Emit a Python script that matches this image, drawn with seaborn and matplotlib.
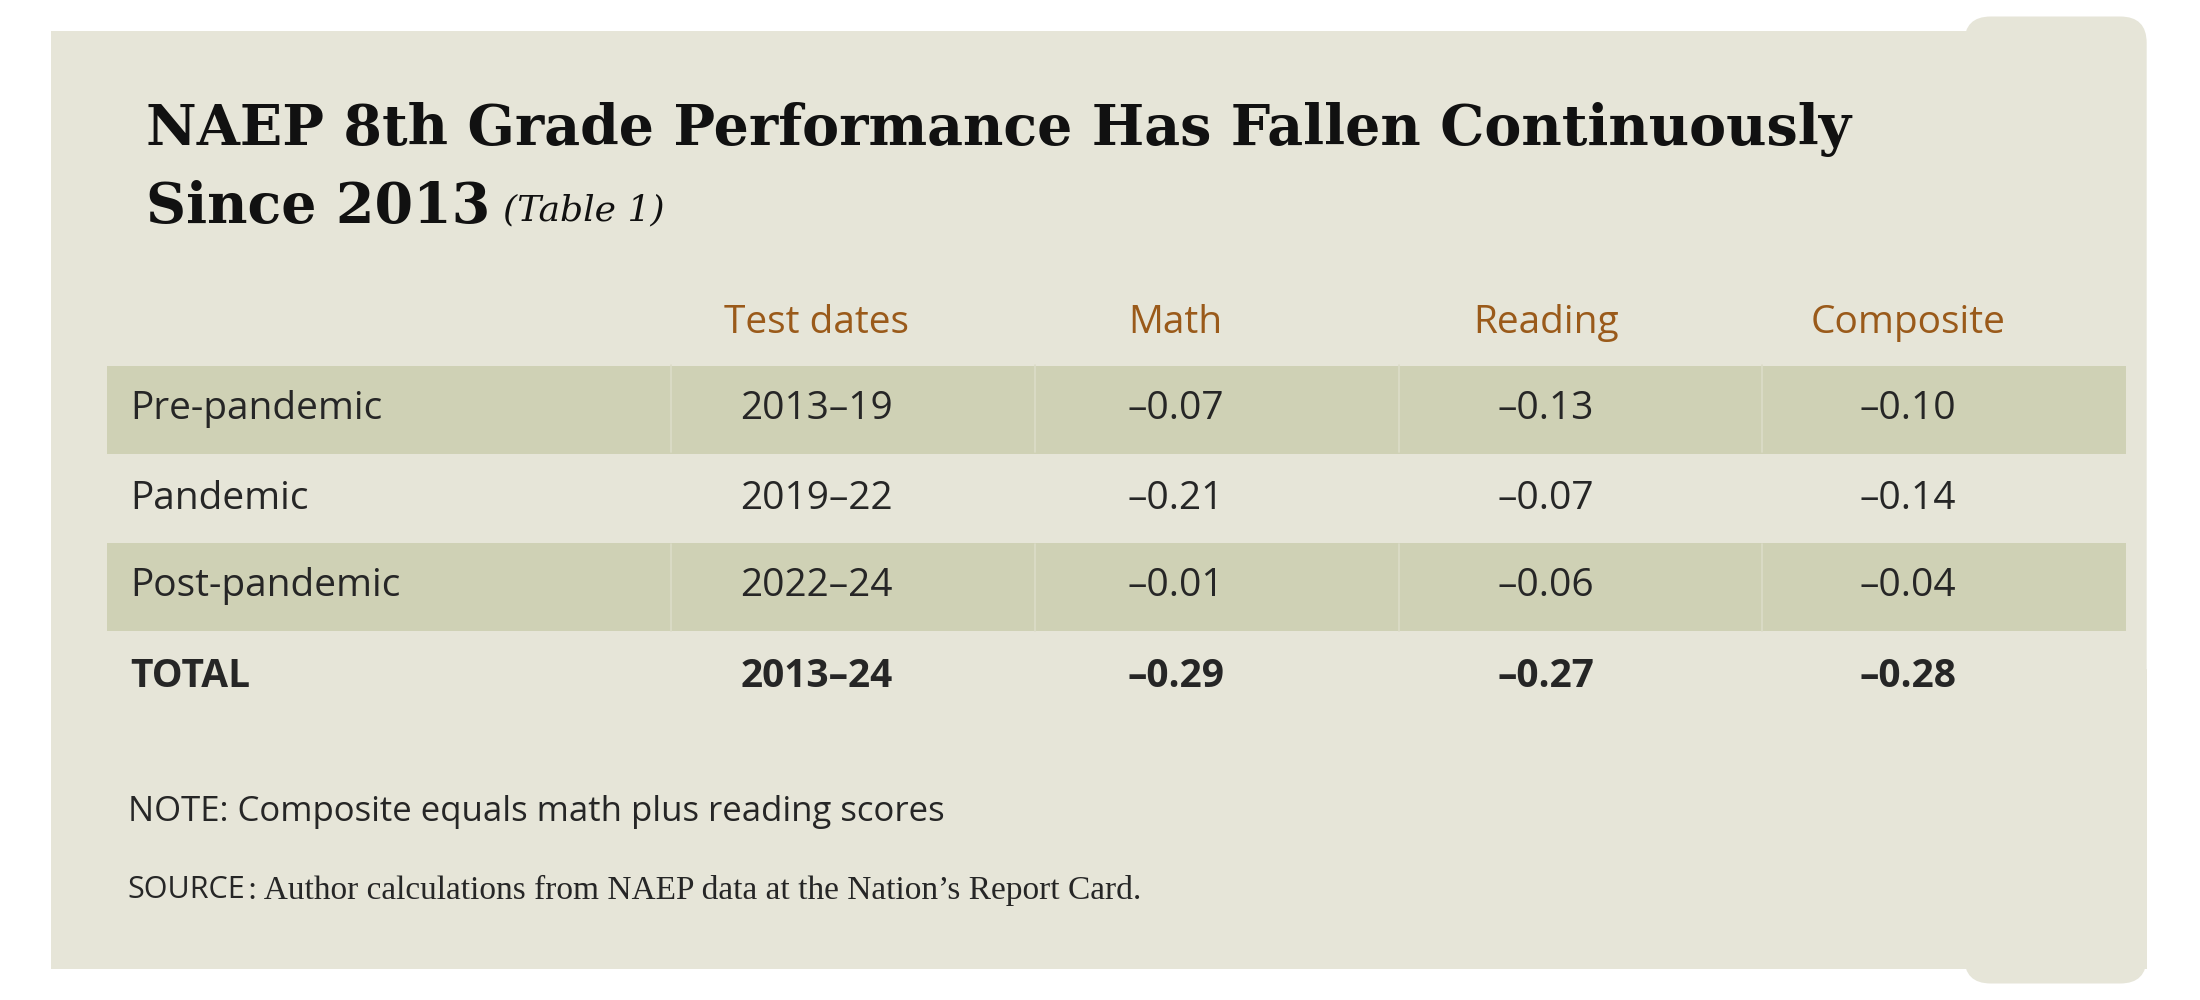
import matplotlib.pyplot as plt
import numpy as np
import seaborn as sns
from matplotlib.colors import ListedColormap
from matplotlib.patches import FancyBboxPatch, Rectangle

sns.set_style("white")
plt.rcParams["font.family"] = ["Open Sans", "DejaVu Sans"]

title_line1 = "NAEP 8th Grade Performance Has Fallen Continuously"
title_line2 = "Since 2013"
title_note = "(Table 1)"
headers = ["Test dates", "Math", "Reading", "Composite"]
row_labels = ["Pre-pandemic", "Pandemic", "Post-pandemic", "TOTAL"]
test_dates = ["2013\u201319", "2019\u201322", "2022\u201324", "2013\u201324"]
math = [-0.07, -0.21, -0.01, -0.29]
reading = [-0.13, -0.07, -0.06, -0.27]
composite = [-0.10, -0.14, -0.04, -0.28]
shaded = [0, 1, 0, 1, 0]  # header row + 4 data rows
note = "NOTE: Composite equals math plus reading scores"
source = "Author calculations from NAEP data at the Nation\u2019s Report Card."

PANEL = "#e6e5d8"
STRIPE = "#cfd1b5"
BROWN = "#9a5a1a"
W, H = 1568, 712  # reference pixel grid used for layout


def fx(x):
    return x / W


def fy(y):
    return 1 - y / H


fig = plt.figure(figsize=(22, 10), dpi=100)
fig.patch.set_facecolor("white")
bg = fig.add_axes([0, 0, 1, 1], zorder=0)
bg.set_xlim(0, 1)
bg.set_ylim(0, 1)
bg.axis("off")
pad = 0.012
bg.add_patch(Rectangle((fx(36), fy(690)), fx(1440 - 36), fy(22) - fy(690), color=PANEL, lw=0))
bg.add_patch(FancyBboxPatch((fx(1400) + pad, fy(690) + pad), fx(130) - 2 * pad,
                            fy(22) - fy(690) - 2 * pad, boxstyle=f"round,pad={pad}",
                            color=PANEL, lw=0, mutation_aspect=2.2))
bg.add_patch(Rectangle((fx(1400), fy(690)), fx(130), 0.3, color=PANEL, lw=0))

# table stripes via seaborn heatmap
tab = fig.add_axes([fx(76), fy(512), fx(1515 - 76), fy(198) - fy(512)], zorder=1)
sns.heatmap(np.array(shaded).reshape(-1, 1), ax=tab, cmap=ListedColormap([PANEL, STRIPE]),
            cbar=False, xticklabels=False, yticklabels=False, vmin=0, vmax=1)
tab.axis("off")

top = fig.add_axes([0, 0, 1, 1], zorder=2)
top.set_xlim(0, 1)
top.set_ylim(0, 1)
top.axis("off")
top.patch.set_alpha(0)

for xb in [478, 738, 997, 1256]:
    for yt in [260, 387]:
        top.plot([fx(xb), fx(xb)], [fy(yt), fy(yt + 62)], color="#dcdcc8", lw=1.2)

top.text(fx(104), fy(92), title_line1, family="DejaVu Serif", weight="bold", fontsize=40,
         va="center", color="#111111")
t2 = top.text(fx(104), fy(148), title_line2, family="DejaVu Serif", weight="bold", fontsize=40,
              va="center", color="#111111")
fig.canvas.draw()
bb = t2.get_window_extent().transformed(top.transData.inverted())
top.text(bb.x1 + 0.006, fy(150), title_note, family="DejaVu Serif", style="italic",
         fontsize=26, va="center", color="#111111")

col_x = [582, 838, 1102, 1360]
for x, h in zip(col_x, headers):
    top.text(fx(x), fy(230), h, ha="center", va="center", fontsize=28, color=BROWN)

row_y = [291, 355, 417, 482]
for i, y in enumerate(row_y):
    wt = "bold" if row_labels[i] == "TOTAL" else "normal"
    vals = [test_dates[i]] + [f"{v:.2f}".replace("-", "\u2013") for v in (math[i], reading[i], composite[i])]
    top.text(fx(93), fy(y), row_labels[i], ha="left", va="center", fontsize=28, weight=wt)
    for x, v in zip(col_x, vals):
        top.text(fx(x), fy(y), v, ha="center", va="center", fontsize=28, weight=wt)

top.text(fx(91), fy(578), note, ha="left", va="center", fontsize=25)
s = top.text(fx(91), fy(634), "SOURCE", ha="left", va="center", fontsize=22)
fig.canvas.draw()
sb = s.get_window_extent().transformed(top.transData.inverted())
top.text(sb.x1 + 0.001, fy(634), ": " + source, family="Liberation Serif", ha="left",
         va="center", fontsize=24)

fig.savefig("out.png", dpi=100, facecolor="white")
